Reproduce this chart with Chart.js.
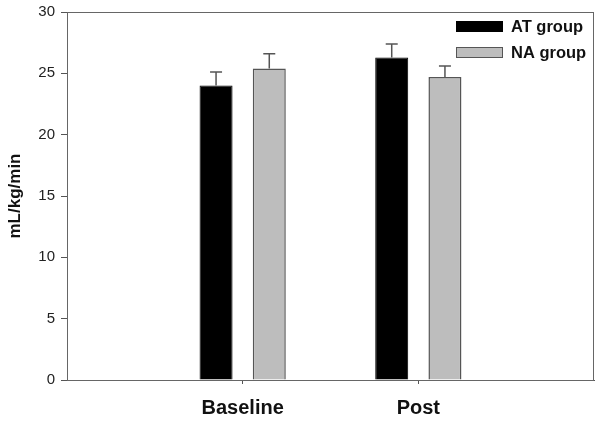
<!DOCTYPE html>
<html>
<head>
<meta charset="utf-8">
<script src="https://cdn.jsdelivr.net/npm/chart.js@4.4.1/dist/chart.umd.min.js"></script>
<style>
  html, body { margin: 0; padding: 0; background: #fff; }
  #wrap { width: 602px; height: 422px; }
</style>
</head>
<body>
<div id="wrap"><canvas id="myChart" width="602" height="422"></canvas></div>
<script>
// values
var groups = ['Baseline', 'Post'];
var atMeans = [24.0, 26.3];
var atErr = [1.1, 1.1];
var naMeans = [25.4, 24.7];
var naErr = [1.2, 0.9];
var yTicks = [0, 5, 10, 15, 20, 25, 30];

// empty slots either side so the groups sit at 1/3 and 2/3 of the axis
var labels = [''].concat(groups, ['']);
function pad(arr) { return [null].concat(arr, [null]); }

var errorBars = {
    id: 'errorBars',
    afterDatasetsDraw: function(chart) {
        var ctx = chart.ctx;
        var y = chart.scales.y;
        chart.data.datasets.forEach(function(ds, i) {
            var meta = chart.getDatasetMeta(i);
            meta.data.forEach(function(bar, j) {
                if (ds.data[j] == null) return;
                var top = y.getPixelForValue(ds.data[j] + ds.err[j]);
                ctx.save();
                ctx.strokeStyle = '#555';
                ctx.lineWidth = 1.5;
                ctx.beginPath();
                ctx.moveTo(bar.x, bar.y);
                ctx.lineTo(bar.x, top);
                ctx.moveTo(bar.x - 6, top);
                ctx.lineTo(bar.x + 6, top);
                ctx.stroke();
                ctx.restore();
            });
        });
    }
};

var frame = {
    id: 'frame',
    afterDraw: function(chart) {
        var a = chart.chartArea;
        var ctx = chart.ctx;
        ctx.save();
        ctx.strokeStyle = '#666';
        ctx.lineWidth = 1;
        ctx.strokeRect(a.left + 0.5, a.top + 0.5, a.right - a.left - 1, a.bottom - a.top);
        // legend inside the plot, top right
        chart.data.datasets.forEach(function(ds, i) {
            var yy = a.top + 9 + i * 26;
            ctx.fillStyle = ds.backgroundColor;
            ctx.strokeStyle = ds.borderColor;
            ctx.fillRect(a.right - 138, yy, 47, 11);
            ctx.strokeRect(a.right - 138 + 0.5, yy + 0.5, 46, 10);
            ctx.fillStyle = '#111';
            ctx.font = 'bold 16.5px "Liberation Sans", Arial, sans-serif';
            ctx.textBaseline = 'middle';
            ctx.fillText(ds.label, a.right - 83, yy + 6);
        });
        ctx.restore();
    }
};

var ctx = document.getElementById('myChart').getContext('2d');
var chart = new Chart(ctx, {
    type: 'bar',
    data: {
        labels: labels,
        datasets: [{
            label: 'AT group',
            data: pad(atMeans),
            err: pad(atErr),
            backgroundColor: '#000000',
            borderColor: '#000000',
            borderWidth: 1
        }, {
            label: 'NA group',
            data: pad(naMeans),
            err: pad(naErr),
            backgroundColor: '#bdbdbd',
            borderColor: '#555555',
            borderWidth: 1.5
        }]
    },
    options: {
        responsive: false,
        animation: false,
        layout: { padding: { top: 12, right: 8, left: 0, bottom: 0 } },
        plugins: {
            legend: { display: false },
            tooltip: { enabled: false }
        },
        datasets: {
            bar: { categoryPercentage: 0.606, barPercentage: 0.62 }
        },
        scales: {
            x: {
                offset: false,
                grid: {
                    offset: false,
                    drawOnChartArea: false,
                    tickLength: 4,
                    color: function(c) { return labels[c.index] ? '#555' : 'rgba(0,0,0,0)'; }
                },
                border: { color: '#555', width: 1 },
                ticks: {
                    color: '#111',
                    padding: 12,
                    maxRotation: 0,
                    autoSkip: false,
                    font: { family: '"Liberation Sans", Arial, sans-serif', size: 20, weight: 'bold' }
                },
                afterFit: function(s) {
                    s.height = 42;
                    s.paddingLeft = 0;
                    s.paddingRight = 0;
                }
            },
            y: {
                min: 0,
                max: 30,
                afterBuildTicks: function(s) { s.ticks = yTicks.map(function(v) { return { value: v }; }); },
                grid: { drawOnChartArea: false, tickLength: 6, color: '#555' },
                border: { color: '#555', width: 1 },
                ticks: {
                    color: '#222',
                    padding: 6,
                    font: { family: '"Liberation Sans", Arial, sans-serif', size: 15 }
                },
                title: {
                    display: true,
                    text: 'mL/kg/min',
                    color: '#111',
                    padding: { top: 5, bottom: 0 },
                    font: { family: '"Liberation Sans", Arial, sans-serif', size: 17, weight: 'bold' }
                },
                afterFit: function(s) {
                    s.width = 67;
                    s.paddingTop = 0;
                    s.paddingBottom = 0;
                }
            }
        }
    },
    plugins: [errorBars, frame]
});
</script>
</body>
</html>
